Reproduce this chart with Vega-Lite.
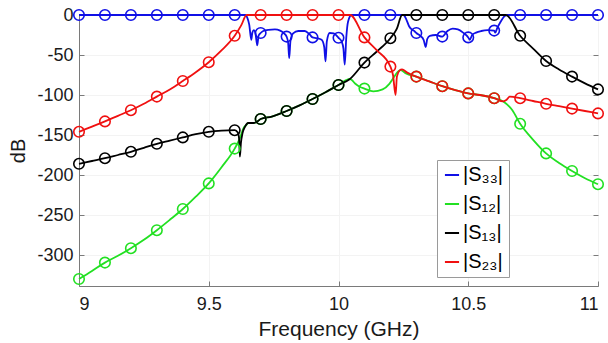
{
  "$schema": "https://vega.github.io/schema/vega-lite/v6.json",
  "width": 519,
  "height": 271,
  "autosize": {"type": "none"},
  "padding": {"left": 79, "top": 15, "right": 10, "bottom": 57},
  "background": "white",
  "config": {
    "font": "Liberation Sans",
    "view": {"stroke": "#7a7a7a", "strokeWidth": 1},
    "axis": {
      "labelFontSize": 18,
      "labelColor": "#1a1a1a",
      "titleFontSize": 21,
      "titleFontWeight": "normal",
      "titleColor": "#1a1a1a",
      "domainColor": "#7a7a7a",
      "tickColor": "#7a7a7a",
      "tickSize": -5,
      "gridColor": "#f3f3f3"
    },
    "legend": {
      "orient": "none",
      "legendX": 358,
      "legendY": 145,
      "symbolType": "stroke",
      "symbolSize": 200,
      "symbolStrokeWidth": 2,
      "labelFontSize": 20,
      "labelColor": "#000000",
      "labelOffset": 1,
      "rowPadding": 9,
      "padding": 5,
      "strokeColor": "#9a9a9a",
      "fillColor": "white"
    }
  },
  "data": {
    "values": [
      {"s": "|S₃₃|", "f": 9, "v": 0}, {"s": "|S₃₃|", "f": 9.1, "v": 0}, {"s": "|S₃₃|", "f": 9.2, "v": 0},
      {"s": "|S₃₃|", "f": 9.3, "v": 0}, {"s": "|S₃₃|", "f": 9.4, "v": 0}, {"s": "|S₃₃|", "f": 9.5, "v": 0},
      {"s": "|S₃₃|", "f": 9.6, "v": 0}, {"s": "|S₃₃|", "f": 9.642, "v": 0}, {"s": "|S₃₃|", "f": 9.648, "v": -3},
      {"s": "|S₃₃|", "f": 9.656, "v": -12}, {"s": "|S₃₃|", "f": 9.664, "v": -31}, {"s": "|S₃₃|", "f": 9.668, "v": -22},
      {"s": "|S₃₃|", "f": 9.674, "v": -19}, {"s": "|S₃₃|", "f": 9.68, "v": -23}, {"s": "|S₃₃|", "f": 9.687, "v": -38},
      {"s": "|S₃₃|", "f": 9.692, "v": -26}, {"s": "|S₃₃|", "f": 9.7, "v": -22.5}, {"s": "|S₃₃|", "f": 9.71, "v": -20},
      {"s": "|S₃₃|", "f": 9.73, "v": -18.5}, {"s": "|S₃₃|", "f": 9.755, "v": -18}, {"s": "|S₃₃|", "f": 9.775, "v": -19.5},
      {"s": "|S₃₃|", "f": 9.79, "v": -23}, {"s": "|S₃₃|", "f": 9.8, "v": -27}, {"s": "|S₃₃|", "f": 9.806, "v": -35},
      {"s": "|S₃₃|", "f": 9.81, "v": -54}, {"s": "|S₃₃|", "f": 9.815, "v": -32}, {"s": "|S₃₃|", "f": 9.825, "v": -23},
      {"s": "|S₃₃|", "f": 9.845, "v": -20}, {"s": "|S₃₃|", "f": 9.87, "v": -20}, {"s": "|S₃₃|", "f": 9.888, "v": -24},
      {"s": "|S₃₃|", "f": 9.9, "v": -28}, {"s": "|S₃₃|", "f": 9.915, "v": -29}, {"s": "|S₃₃|", "f": 9.935, "v": -31},
      {"s": "|S₃₃|", "f": 9.945, "v": -40}, {"s": "|S₃₃|", "f": 9.95, "v": -58}, {"s": "|S₃₃|", "f": 9.955, "v": -33},
      {"s": "|S₃₃|", "f": 9.966, "v": -22.5}, {"s": "|S₃₃|", "f": 9.982, "v": -23}, {"s": "|S₃₃|", "f": 10, "v": -28.5},
      {"s": "|S₃₃|", "f": 10.012, "v": -33}, {"s": "|S₃₃|", "f": 10.019, "v": -42}, {"s": "|S₃₃|", "f": 10.024, "v": -62},
      {"s": "|S₃₃|", "f": 10.03, "v": -28}, {"s": "|S₃₃|", "f": 10.037, "v": -8}, {"s": "|S₃₃|", "f": 10.05, "v": 0},
      {"s": "|S₃₃|", "f": 10.1, "v": 0}, {"s": "|S₃₃|", "f": 10.2, "v": 0}, {"s": "|S₃₃|", "f": 10.25, "v": 0},
      {"s": "|S₃₃|", "f": 10.262, "v": -6}, {"s": "|S₃₃|", "f": 10.272, "v": -14}, {"s": "|S₃₃|", "f": 10.282, "v": -18},
      {"s": "|S₃₃|", "f": 10.292, "v": -20}, {"s": "|S₃₃|", "f": 10.3, "v": -22.5}, {"s": "|S₃₃|", "f": 10.315, "v": -26},
      {"s": "|S₃₃|", "f": 10.328, "v": -31}, {"s": "|S₃₃|", "f": 10.336, "v": -40}, {"s": "|S₃₃|", "f": 10.342, "v": -30},
      {"s": "|S₃₃|", "f": 10.352, "v": -26}, {"s": "|S₃₃|", "f": 10.375, "v": -25}, {"s": "|S₃₃|", "f": 10.4, "v": -27},
      {"s": "|S₃₃|", "f": 10.42, "v": -20}, {"s": "|S₃₃|", "f": 10.44, "v": -17}, {"s": "|S₃₃|", "f": 10.46, "v": -18},
      {"s": "|S₃₃|", "f": 10.48, "v": -22}, {"s": "|S₃₃|", "f": 10.5, "v": -28}, {"s": "|S₃₃|", "f": 10.506, "v": -31},
      {"s": "|S₃₃|", "f": 10.515, "v": -25}, {"s": "|S₃₃|", "f": 10.53, "v": -22}, {"s": "|S₃₃|", "f": 10.55, "v": -20},
      {"s": "|S₃₃|", "f": 10.575, "v": -19}, {"s": "|S₃₃|", "f": 10.6, "v": -19.5}, {"s": "|S₃₃|", "f": 10.604, "v": -22},
      {"s": "|S₃₃|", "f": 10.612, "v": -16}, {"s": "|S₃₃|", "f": 10.622, "v": -10}, {"s": "|S₃₃|", "f": 10.638, "v": -2},
      {"s": "|S₃₃|", "f": 10.65, "v": 0}, {"s": "|S₃₃|", "f": 10.7, "v": 0}, {"s": "|S₃₃|", "f": 10.8, "v": 0},
      {"s": "|S₃₃|", "f": 10.9, "v": 0}, {"s": "|S₃₃|", "f": 11, "v": 0},

      {"s": "|S₁₂|", "f": 9, "v": -330}, {"s": "|S₁₂|", "f": 9.05, "v": -320}, {"s": "|S₁₂|", "f": 9.1, "v": -309.5},
      {"s": "|S₁₂|", "f": 9.15, "v": -301}, {"s": "|S₁₂|", "f": 9.2, "v": -291.5}, {"s": "|S₁₂|", "f": 9.25, "v": -281},
      {"s": "|S₁₂|", "f": 9.3, "v": -269}, {"s": "|S₁₂|", "f": 9.35, "v": -256}, {"s": "|S₁₂|", "f": 9.4, "v": -242.5},
      {"s": "|S₁₂|", "f": 9.45, "v": -227}, {"s": "|S₁₂|", "f": 9.5, "v": -210.5}, {"s": "|S₁₂|", "f": 9.55, "v": -190},
      {"s": "|S₁₂|", "f": 9.6, "v": -167}, {"s": "|S₁₂|", "f": 9.62, "v": -154}, {"s": "|S₁₂|", "f": 9.633, "v": -142},
      {"s": "|S₁₂|", "f": 9.646, "v": -137}, {"s": "|S₁₂|", "f": 9.652, "v": -135}, {"s": "|S₁₂|", "f": 9.672, "v": -135},
      {"s": "|S₁₂|", "f": 9.69, "v": -132.5}, {"s": "|S₁₂|", "f": 9.7, "v": -130}, {"s": "|S₁₂|", "f": 9.743, "v": -127},
      {"s": "|S₁₂|", "f": 9.8, "v": -120}, {"s": "|S₁₂|", "f": 9.85, "v": -113}, {"s": "|S₁₂|", "f": 9.9, "v": -105},
      {"s": "|S₁₂|", "f": 9.95, "v": -96.5}, {"s": "|S₁₂|", "f": 10, "v": -87.5}, {"s": "|S₁₂|", "f": 10.044, "v": -80},
      {"s": "|S₁₂|", "f": 10.05, "v": -81}, {"s": "|S₁₂|", "f": 10.065, "v": -86}, {"s": "|S₁₂|", "f": 10.083, "v": -90},
      {"s": "|S₁₂|", "f": 10.1, "v": -92}, {"s": "|S₁₂|", "f": 10.134, "v": -95.5}, {"s": "|S₁₂|", "f": 10.17, "v": -93},
      {"s": "|S₁₂|", "f": 10.196, "v": -86}, {"s": "|S₁₂|", "f": 10.215, "v": -77}, {"s": "|S₁₂|", "f": 10.228, "v": -71},
      {"s": "|S₁₂|", "f": 10.24, "v": -69}, {"s": "|S₁₂|", "f": 10.26, "v": -73}, {"s": "|S₁₂|", "f": 10.3, "v": -77},
      {"s": "|S₁₂|", "f": 10.35, "v": -83}, {"s": "|S₁₂|", "f": 10.4, "v": -89}, {"s": "|S₁₂|", "f": 10.45, "v": -94},
      {"s": "|S₁₂|", "f": 10.5, "v": -98}, {"s": "|S₁₂|", "f": 10.545, "v": -100}, {"s": "|S₁₂|", "f": 10.6, "v": -104},
      {"s": "|S₁₂|", "f": 10.635, "v": -108}, {"s": "|S₁₂|", "f": 10.67, "v": -119}, {"s": "|S₁₂|", "f": 10.7, "v": -136},
      {"s": "|S₁₂|", "f": 10.75, "v": -156}, {"s": "|S₁₂|", "f": 10.8, "v": -173}, {"s": "|S₁₂|", "f": 10.85, "v": -185},
      {"s": "|S₁₂|", "f": 10.9, "v": -195}, {"s": "|S₁₂|", "f": 10.95, "v": -204}, {"s": "|S₁₂|", "f": 11, "v": -211.5},

      {"s": "|S₁₃|", "f": 9, "v": -186}, {"s": "|S₁₃|", "f": 9.05, "v": -182.5}, {"s": "|S₁₃|", "f": 9.1, "v": -179},
      {"s": "|S₁₃|", "f": 9.15, "v": -175}, {"s": "|S₁₃|", "f": 9.2, "v": -171}, {"s": "|S₁₃|", "f": 9.25, "v": -166},
      {"s": "|S₁₃|", "f": 9.3, "v": -161}, {"s": "|S₁₃|", "f": 9.35, "v": -157}, {"s": "|S₁₃|", "f": 9.4, "v": -153},
      {"s": "|S₁₃|", "f": 9.45, "v": -149}, {"s": "|S₁₃|", "f": 9.5, "v": -146}, {"s": "|S₁₃|", "f": 9.55, "v": -144.5},
      {"s": "|S₁₃|", "f": 9.6, "v": -144}, {"s": "|S₁₃|", "f": 9.612, "v": -147}, {"s": "|S₁₃|", "f": 9.617, "v": -155},
      {"s": "|S₁₃|", "f": 9.62, "v": -177}, {"s": "|S₁₃|", "f": 9.624, "v": -160}, {"s": "|S₁₃|", "f": 9.63, "v": -148},
      {"s": "|S₁₃|", "f": 9.64, "v": -139.5}, {"s": "|S₁₃|", "f": 9.652, "v": -135}, {"s": "|S₁₃|", "f": 9.672, "v": -135},
      {"s": "|S₁₃|", "f": 9.69, "v": -132.5}, {"s": "|S₁₃|", "f": 9.7, "v": -130}, {"s": "|S₁₃|", "f": 9.743, "v": -127},
      {"s": "|S₁₃|", "f": 9.8, "v": -120}, {"s": "|S₁₃|", "f": 9.85, "v": -113}, {"s": "|S₁₃|", "f": 9.9, "v": -105},
      {"s": "|S₁₃|", "f": 9.95, "v": -96.5}, {"s": "|S₁₃|", "f": 10, "v": -87.5}, {"s": "|S₁₃|", "f": 10.044, "v": -80},
      {"s": "|S₁₃|", "f": 10.1, "v": -59.5}, {"s": "|S₁₃|", "f": 10.15, "v": -45}, {"s": "|S₁₃|", "f": 10.2, "v": -29},
      {"s": "|S₁₃|", "f": 10.225, "v": -17}, {"s": "|S₁₃|", "f": 10.245, "v": 0}, {"s": "|S₁₃|", "f": 10.3, "v": 0},
      {"s": "|S₁₃|", "f": 10.4, "v": 0}, {"s": "|S₁₃|", "f": 10.5, "v": 0}, {"s": "|S₁₃|", "f": 10.6, "v": 0},
      {"s": "|S₁₃|", "f": 10.645, "v": 0}, {"s": "|S₁₃|", "f": 10.7, "v": -26}, {"s": "|S₁₃|", "f": 10.75, "v": -42},
      {"s": "|S₁₃|", "f": 10.8, "v": -57.5}, {"s": "|S₁₃|", "f": 10.85, "v": -68}, {"s": "|S₁₃|", "f": 10.9, "v": -77},
      {"s": "|S₁₃|", "f": 10.95, "v": -85.5}, {"s": "|S₁₃|", "f": 11, "v": -93},

      {"s": "|S₂₃|", "f": 9, "v": -146}, {"s": "|S₂₃|", "f": 9.05, "v": -139.5}, {"s": "|S₂₃|", "f": 9.1, "v": -133},
      {"s": "|S₂₃|", "f": 9.15, "v": -126}, {"s": "|S₂₃|", "f": 9.2, "v": -119}, {"s": "|S₂₃|", "f": 9.25, "v": -111},
      {"s": "|S₂₃|", "f": 9.3, "v": -102}, {"s": "|S₂₃|", "f": 9.35, "v": -93}, {"s": "|S₂₃|", "f": 9.4, "v": -82.5},
      {"s": "|S₂₃|", "f": 9.45, "v": -71.5}, {"s": "|S₂₃|", "f": 9.5, "v": -59}, {"s": "|S₂₃|", "f": 9.55, "v": -44},
      {"s": "|S₂₃|", "f": 9.6, "v": -26}, {"s": "|S₂₃|", "f": 9.625, "v": -13}, {"s": "|S₂₃|", "f": 9.646, "v": 0},
      {"s": "|S₂₃|", "f": 9.7, "v": 0}, {"s": "|S₂₃|", "f": 9.8, "v": 0}, {"s": "|S₂₃|", "f": 9.9, "v": 0},
      {"s": "|S₂₃|", "f": 10, "v": 0}, {"s": "|S₂₃|", "f": 10.045, "v": 0}, {"s": "|S₂₃|", "f": 10.1, "v": -28},
      {"s": "|S₂₃|", "f": 10.147, "v": -44}, {"s": "|S₂₃|", "f": 10.2, "v": -64.5}, {"s": "|S₂₃|", "f": 10.21, "v": -75},
      {"s": "|S₂₃|", "f": 10.22, "v": -100}, {"s": "|S₂₃|", "f": 10.225, "v": -77}, {"s": "|S₂₃|", "f": 10.235, "v": -69.5},
      {"s": "|S₂₃|", "f": 10.245, "v": -68}, {"s": "|S₂₃|", "f": 10.265, "v": -72}, {"s": "|S₂₃|", "f": 10.3, "v": -77},
      {"s": "|S₂₃|", "f": 10.35, "v": -83}, {"s": "|S₂₃|", "f": 10.4, "v": -89}, {"s": "|S₂₃|", "f": 10.45, "v": -94},
      {"s": "|S₂₃|", "f": 10.5, "v": -98}, {"s": "|S₂₃|", "f": 10.545, "v": -100}, {"s": "|S₂₃|", "f": 10.6, "v": -104},
      {"s": "|S₂₃|", "f": 10.635, "v": -108}, {"s": "|S₂₃|", "f": 10.648, "v": -106}, {"s": "|S₂₃|", "f": 10.66, "v": -102},
      {"s": "|S₂₃|", "f": 10.7, "v": -104}, {"s": "|S₂₃|", "f": 10.75, "v": -107.5}, {"s": "|S₂₃|", "f": 10.8, "v": -111},
      {"s": "|S₂₃|", "f": 10.85, "v": -114}, {"s": "|S₂₃|", "f": 10.9, "v": -117}, {"s": "|S₂₃|", "f": 10.95, "v": -120},
      {"s": "|S₂₃|", "f": 11, "v": -123}
    ]
  },
  "layer": [
    {
      "mark": {"type": "line", "strokeWidth": 1.8, "interpolate": "monotone"},
      "encoding": {
        "x": {
          "field": "f", "type": "quantitative",
          "scale": {"domain": [9, 11], "nice": false},
          "axis": {
            "values": [9, 9.5, 10, 10.5, 11],
            "labelExpr": "datum.value + ''",
            "title": "Frequency (GHz)",
            "labelPadding": 14,
            "titlePadding": 5,
            "grid": true
          }
        },
        "y": {
          "field": "v", "type": "quantitative",
          "scale": {"domain": [-338.75, 0], "nice": false, "zero": false},
          "axis": {
            "orient": "left",
            "values": [0, -50, -100, -150, -200, -250, -300],
            "labelExpr": "datum.value + ''",
            "title": "dB",
            "titleFontSize": 20,
            "labelPadding": 11,
            "titlePadding": 8,
            "grid": true
          }
        },
        "color": {
          "field": "s", "type": "nominal",
          "scale": {
            "domain": ["|S₃₃|", "|S₁₂|", "|S₁₃|", "|S₂₃|"],
            "range": ["#1010e6", "#22e022", "#000000", "#f01010"]
          },
          "legend": {"title": null}
        }
      }
    },
    {
      "transform": [{"filter": "abs(datum.f * 10 - round(datum.f * 10)) < 0.001"}],
      "mark": {"type": "point", "filled": false, "size": 110, "strokeWidth": 1.6, "opacity": 1},
      "encoding": {
        "x": {"field": "f", "type": "quantitative"},
        "y": {
          "field": "v", "type": "quantitative",
          "axis": {
            "orient": "right",
            "values": [0, -50, -100, -150, -200, -250, -300],
            "labels": false,
            "title": null,
            "grid": false,
            "domain": false
          }
        },
        "stroke": {
          "field": "s", "type": "nominal",
          "scale": {
            "domain": ["|S₃₃|", "|S₁₂|", "|S₁₃|", "|S₂₃|"],
            "range": ["#1010e6", "#22e022", "#000000", "#f01010"]
          },
          "legend": null
        }
      }
    }
  ],
  "resolve": {"axis": {"y": "independent"}}
}
